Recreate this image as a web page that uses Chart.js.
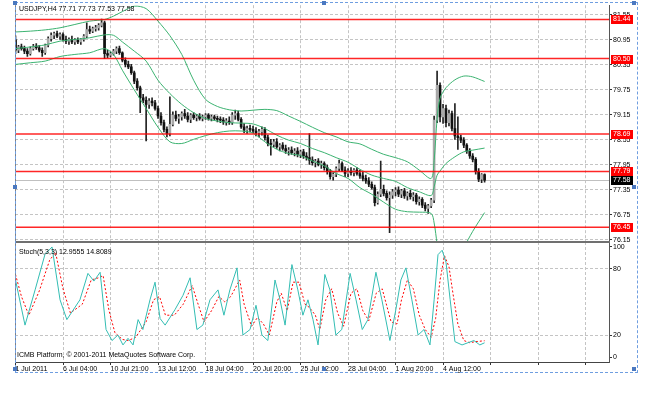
<!DOCTYPE html>
<html>
<head>
<meta charset="utf-8">
<title>USDJPY,H4</title>
<script src="https://cdn.jsdelivr.net/npm/chart.js@4.4.1/dist/chart.umd.min.js"></script>
<style>
    html, body { margin: 0; padding: 0; background: #fff; }
    #wrap { position: relative; width: 662px; height: 396px; overflow: hidden; background: #fff; }
    #wrap canvas { position: absolute; left: 0; top: 0; }
    .txt { position: absolute; font: 7px "Liberation Sans", Arial, sans-serif; color: #000; white-space: nowrap; line-height: 9px; }
    #selection { position: absolute; left: 15px; top: 2px; width: 623px; height: 371px; box-sizing: border-box; border: 1px dashed #6f9ee0; }
    .handle { position: absolute; width: 4px; height: 4px; background: #4a78c0; }
</style>
</head>
<body>
<div id="wrap">
    <canvas id="priceCanvas" width="662" height="396"></canvas>
    <canvas id="stochCanvas" width="662" height="396"></canvas>
    <div class="txt" id="priceTitle" style="left:19px; top:4px;"></div>
    <div class="txt" id="stochTitle" style="left:19px; top:247px;"></div>
    <div class="txt" style="left:17px; top:350px;">ICMB Platform, © 2001-2011 MetaQuotes Software Corp.</div>
    <div id="selection"></div>
    <div class="handle" style="left:13px; top:1px;"></div>
    <div class="handle" style="left:322px; top:1px;"></div>
    <div class="handle" style="left:632px; top:1px;"></div>
    <div class="handle" style="left:13px; top:185px;"></div>
    <div class="handle" style="left:632px; top:185px;"></div>
    <div class="handle" style="left:13px; top:367px;"></div>
    <div class="handle" style="left:322px; top:367px;"></div>
    <div class="handle" style="left:632px; top:367px;"></div>
</div>
<script>
// DATA: H4 candles, bar index 0..158
const SYMBOL = 'USDJPY,H4';

const candleOpen = [
    80.95,80.70,80.78,80.74,80.68,80.62,80.74,80.80,80.76,80.70,
    80.64,80.82,80.98,81.06,81.10,81.04,81.08,80.96,80.92,80.96,
    80.90,80.94,80.90,80.96,81.04,81.20,81.16,81.22,81.24,81.30,
    81.36,80.62,80.58,80.62,80.68,80.74,80.64,80.46,80.36,80.30,
    80.16,79.96,79.80,79.56,79.50,79.40,79.48,79.44,79.30,79.12,
    78.96,78.80,78.70,78.92,79.14,79.06,79.10,79.18,79.12,79.04,
    79.14,79.08,79.12,79.06,79.10,79.14,79.06,79.10,79.06,79.04,
    79.02,78.98,79.00,78.96,79.14,79.18,79.04,78.86,78.78,78.82,
    78.80,78.76,78.72,78.74,78.80,78.60,78.46,78.44,78.50,78.38,
    78.42,78.34,78.28,78.30,78.24,78.28,78.20,78.26,78.16,78.12,
    78.06,78.00,78.04,77.96,77.98,77.88,77.78,77.66,77.72,77.86,
    77.98,77.82,77.74,77.80,77.76,77.82,77.74,77.68,77.62,77.56,
    77.48,77.40,77.04,77.24,77.36,77.26,77.16,77.22,77.30,77.34,
    77.24,77.32,77.20,77.26,77.18,77.22,77.06,77.12,76.98,76.90,
    76.96,77.10,79.02,79.86,79.10,79.30,78.96,79.18,78.82,78.64,
    78.60,78.54,78.42,78.28,78.16,78.08,77.78,77.60,77.71
];
const candleHigh = [
    81.05,80.82,80.85,80.80,80.74,80.78,80.84,80.86,80.82,80.76,
    80.85,81.02,81.12,81.14,81.16,81.12,81.12,81.04,81.00,81.04,
    80.98,81.00,80.98,81.08,81.36,81.28,81.26,81.30,81.34,81.45,
    81.40,80.70,80.66,80.72,80.78,80.80,80.66,80.52,80.44,80.36,
    80.20,80.02,79.84,79.64,79.58,79.54,79.56,79.50,79.36,79.20,
    79.02,78.86,79.58,79.22,79.24,79.16,79.22,79.28,79.20,79.18,
    79.20,79.16,79.18,79.14,79.18,79.18,79.14,79.14,79.12,79.10,
    79.08,79.06,79.10,79.20,79.26,79.24,79.08,78.94,78.88,78.90,
    78.88,78.84,78.80,78.86,78.84,78.66,78.56,78.56,78.58,78.46,
    78.48,78.42,78.36,78.38,78.34,78.36,78.30,78.32,78.24,78.70,
    78.14,78.08,78.10,78.04,78.02,77.94,77.84,77.76,77.90,78.06,
    78.02,77.90,77.86,77.88,77.86,77.88,77.82,77.78,77.70,77.64,
    77.54,77.46,77.30,78.04,77.46,77.32,77.30,77.36,77.40,77.42,
    77.36,77.38,77.30,77.34,77.28,77.26,77.18,77.16,77.04,77.00,
    77.14,79.12,80.20,79.92,79.40,79.38,79.26,79.24,79.42,79.10,
    78.66,78.60,78.46,78.34,78.22,78.12,77.86,77.74,77.73
];
const candleLow = [
    80.62,80.64,80.70,80.62,80.55,80.58,80.70,80.72,80.66,80.55,
    80.60,80.78,80.92,80.98,81.00,80.96,80.92,80.86,80.84,80.86,
    80.84,80.86,80.84,80.92,81.00,81.10,81.12,81.16,81.18,81.26,
    80.50,80.52,80.54,80.58,80.62,80.60,80.42,80.30,80.26,80.12,
    79.90,79.74,79.20,79.44,78.52,79.30,79.36,79.26,79.06,78.90,
    78.74,78.62,78.64,78.88,79.00,78.94,79.02,79.06,78.98,78.96,
    79.04,79.00,79.02,79.00,79.04,79.02,79.00,79.02,78.98,78.96,
    78.92,78.90,78.92,78.92,79.04,79.00,78.82,78.72,78.70,78.74,
    78.72,78.64,78.62,78.66,78.54,78.40,78.18,78.38,78.34,78.28,
    78.30,78.22,78.18,78.20,78.16,78.14,78.12,78.10,78.06,77.96,
    77.94,77.90,77.92,77.86,77.82,77.72,77.60,77.58,77.66,77.80,
    77.78,77.66,77.66,77.70,77.68,77.70,77.62,77.56,77.50,77.42,
    77.36,76.96,77.00,77.18,77.20,77.10,76.32,77.14,77.20,77.18,
    77.16,77.14,77.10,77.12,77.08,77.00,76.98,76.92,76.84,76.78,
    76.92,77.04,78.96,78.98,78.94,78.86,78.88,78.76,78.56,78.32,
    78.48,78.36,78.22,78.10,78.02,77.72,77.54,77.52,77.53
];
const candleClose = [
    80.70,80.78,80.74,80.68,80.62,80.74,80.80,80.76,80.70,80.64,
    80.82,80.98,81.06,81.10,81.04,81.08,80.96,80.92,80.96,80.90,
    80.94,80.90,80.96,81.04,81.20,81.16,81.22,81.24,81.30,81.36,
    80.62,80.58,80.62,80.68,80.74,80.64,80.46,80.36,80.30,80.16,
    79.96,79.80,79.56,79.50,79.40,79.48,79.44,79.30,79.12,78.96,
    78.80,78.70,78.92,79.14,79.06,79.10,79.18,79.12,79.04,79.14,
    79.08,79.12,79.06,79.10,79.14,79.06,79.10,79.06,79.04,79.02,
    78.98,79.00,78.96,79.14,79.18,79.04,78.86,78.78,78.82,78.80,
    78.76,78.72,78.74,78.80,78.60,78.46,78.44,78.50,78.38,78.42,
    78.34,78.28,78.30,78.24,78.28,78.20,78.26,78.16,78.12,78.06,
    78.00,78.04,77.96,77.98,77.88,77.78,77.66,77.72,77.86,77.98,
    77.82,77.74,77.80,77.76,77.82,77.74,77.68,77.62,77.56,77.48,
    77.40,77.04,77.24,77.36,77.26,77.16,77.22,77.30,77.34,77.24,
    77.32,77.20,77.26,77.18,77.22,77.06,77.12,76.98,76.90,76.96,
    77.10,79.02,79.86,79.10,79.30,78.96,79.18,78.82,78.64,78.60,
    78.54,78.42,78.28,78.16,78.08,77.78,77.60,77.71,77.58
];

// Bollinger bands, read at these bars
const bandX = [0,5,10,15,20,25,30,33,36,40,44,48,52,56,60,64,68,72,76,80,84,88,92,96,100,104,108,112,116,120,124,128,132,136,140,141,142,143,145,148,151,154,158];
const bandUpper = [81.14,81.16,81.19,81.24,81.32,81.40,81.44,81.52,81.63,81.76,81.70,81.40,81.05,80.60,79.98,79.52,79.35,79.27,79.24,79.26,79.28,79.25,79.12,78.99,78.85,78.72,78.62,78.50,78.45,78.32,78.20,78.12,78.02,77.82,77.62,78.05,79.05,79.55,79.80,79.99,80.08,80.06,79.95];
const bandMiddle = [80.74,80.78,80.83,80.92,80.96,81.00,81.07,81.06,80.90,80.68,80.44,79.98,79.66,79.40,79.20,79.06,79.00,78.96,78.95,78.93,78.82,78.66,78.54,78.46,78.34,78.24,78.12,78.01,77.84,77.70,77.62,77.55,77.40,77.30,77.21,77.42,77.70,77.80,77.98,78.14,78.26,78.30,78.35];
const bandLower = [80.36,80.40,80.44,80.55,80.60,80.64,80.74,80.60,80.22,79.75,79.30,78.85,78.50,78.46,78.56,78.65,78.72,78.76,78.76,78.71,78.50,78.32,78.22,78.17,78.04,77.92,77.74,77.62,77.40,77.24,77.05,76.88,76.82,76.81,76.78,76.55,76.05,75.60,75.30,75.50,75.95,76.35,76.80];

// Stochastic (5,3,3)
const stochMainX = [0,3.2,6.6,9.9,12.3,15,17.3,21.7,24.4,26.4,28.5,30.5,32.5,34.5,36.2,37.9,39.6,41.3,42.9,45.3,47,48.7,50.4,53.7,56.4,58.8,61.1,63.1,65.5,68.2,70.2,72.2,74.6,76.6,79,81,83,85,87.4,89.1,90.8,93.1,95.1,96.8,98.5,100.2,101.9,104.2,105.9,107.9,109.9,112.7,114.7,116.8,118.7,121.4,123.4,126.1,128.1,129.8,131.5,133.5,135.6,137.6,139.6,141,142.3,143.7,145,146.4,148,150.4,152.4,154.4,156.4,158];
const stochMain = [70,29,61,93,100,52,34,52,76,69,77,25,15,20,11,17,11,34,25,52,68,35,29,43,56,72,25,29,52,61,38,61,81,20,25,47,20,15,70,52,29,84,61,38,52,34,11,75,61,20,25,76,52,25,34,77,52,15,43,70,81,52,20,25,11,52,93,97,86,52,14,11,13,15,11,12.9555];
const stochSignalX = [0,2,4.5,8,11.5,13.5,16,18.5,22.5,25.5,28,29.5,31.5,33.5,36,38,40.5,42.5,44,46.5,48.5,50.5,53.5,56.5,59.5,61.5,63.5,66,68.5,70.5,72.5,75.5,77,79.5,81.5,83.5,85.5,88,89.5,91.5,93.5,95.5,97.5,99,101,102.5,104.5,106.5,108.5,110.5,113,115,117,119,121.5,123.5,126.5,128.5,130,132,134,136,138,140,141.5,143,144.5,146,147.5,149,151,153,155,158];
const stochSignal = [75,55,38,60,88,95,62,40,48,70,72,74,42,22,16,15,18,26,32,52,55,38,38,48,65,48,32,42,55,50,55,70,48,28,36,30,20,50,58,42,68,68,48,45,38,25,52,62,40,28,58,62,42,33,58,62,32,30,52,70,62,38,25,18,35,70,92,82,55,30,15,13,14,14.8089];

// Horizontal lines, axis ticks, time labels
const priceLevels = [81.44, 80.50, 78.69, 77.79, 76.45];
const priceTicks = [76.15, 76.75, 77.35, 77.95, 78.55, 79.15, 79.75, 80.35, 80.95, 81.55];
const stochTicks = [0, 20, 80, 100];
const stochLevels = [20, 80];
const timeTickBars = [0, 16, 32, 48, 64, 80, 96, 112, 128, 144, 160, 176, 192];
const timeLabels = ['1 Jul 2011', '6 Jul 04:00', '10 Jul 21:00', '13 Jul 12:00', '18 Jul 04:00', '20 Jul 20:00', '25 Jul 12:00', '28 Jul 04:00', '1 Aug 20:00', '4 Aug 12:00'];

// LAYOUT / STYLE
const X_MIN = -0.17, X_MAX = 199.9;
const PRICE_MIN = 76.117, PRICE_MAX = 81.783;
const STOCH_MIN = -4.5, STOCH_MAX = 104.5;
const AXIS_W = 53;
const GRID = '#c4c4c4';
const BAND = '#3cb371';
const FONT_STR = '7px "Liberation Sans", Arial, sans-serif';

Chart.defaults.font.family = '"Liberation Sans", Arial, sans-serif';
Chart.defaults.font.size = 7;
Chart.defaults.color = '#000';
Chart.defaults.animation = false;
Chart.defaults.events = [];
Chart.defaults.plugins.legend.display = false;
Chart.defaults.plugins.tooltip.enabled = false;

function points(xs, ys) {
    return xs.map((x, k) => ({ x: x, y: ys[k] }));
}

function timeAxis(showLabels) {
    return {
        type: 'linear',
        min: X_MIN,
        max: X_MAX,
        offset: false,
        afterBuildTicks: s => { s.ticks = timeTickBars.map(v => ({ value: v })); },
        afterFit: s => { s.height = showLabels ? 34 : 0; },
        grid: { color: GRID, offset: false, drawTicks: showLabels, tickLength: 3, tickColor: '#333', tickBorderDash: [] },
        border: { display: showLabels, color: '#444', width: 1, dash: [3, 2] },
        ticks: {
            display: showLabels, autoSkip: false, maxRotation: 0, minRotation: 0,
            align: 'start', padding: 0, color: '#000',
            callback: (v, k) => timeLabels[k] || ''
        }
    };
}

function valueAxis(min, max, tickValues, fmt, gridColor) {
    return {
        type: 'linear',
        position: 'right',
        min: min,
        max: max,
        afterBuildTicks: s => { s.ticks = tickValues.map(v => ({ value: v })); },
        afterFit: s => { s.width = AXIS_W; },
        grid: { color: gridColor, tickLength: 3, tickColor: '#333', tickBorderDash: [] },
        border: { color: '#555', width: 1, dash: [3, 2] },
        ticks: { autoSkip: false, padding: 1, color: '#000', callback: fmt }
    };
}

function bandLine(values) {
    return {
        type: 'line',
        data: points(bandX, values),
        borderColor: BAND,
        borderWidth: 1,
        pointRadius: 0,
        tension: 0.3
    };
}

// PLUGINS
const panelFrame = {
    id: 'panelFrame',
    afterDraw(chart, args, opts) {
        const { ctx, chartArea: a } = chart;
        ctx.save();
        ctx.strokeStyle = '#808080';
        ctx.lineWidth = 1;
        ctx.beginPath();
        ctx.moveTo(a.left + 0.5, a.top);
        ctx.lineTo(a.left + 0.5, a.bottom);
        ctx.stroke();
        if (opts.topRule) {
            ctx.strokeStyle = '#707070';
            ctx.lineWidth = 2;
            ctx.beginPath();
            ctx.moveTo(a.left, a.top);
            ctx.lineTo(a.right + 1, a.top);
            ctx.stroke();
        }
        ctx.restore();
    }
};

function priceBox(ctx, y, value, color) {
    const py = y.getPixelForValue(value);
    ctx.fillStyle = color;
    ctx.fillRect(611, Math.round(py) - 4, 22, 9);
    ctx.fillStyle = '#fff';
    ctx.font = FONT_STR;
    ctx.textAlign = 'left';
    ctx.textBaseline = 'middle';
    ctx.fillText(value.toFixed(2), 613, Math.round(py) + 0.5);
}

const priceDecor = {
    id: 'priceDecor',
    beforeDatasetsDraw(chart) {
        // bid line
        const { ctx, chartArea: a, scales: { y } } = chart;
        const bid = candleClose[candleClose.length - 1];
        const py = Math.round(y.getPixelForValue(bid)) + 0.5;
        ctx.save();
        ctx.strokeStyle = '#c0c0c0';
        ctx.lineWidth = 1;
        ctx.beginPath();
        ctx.moveTo(a.left, py);
        ctx.lineTo(a.right, py);
        ctx.stroke();
        ctx.restore();
    },
    afterDatasetsDraw(chart) {
        const { ctx, chartArea: a, scales: { y } } = chart;
        ctx.save();
        ctx.strokeStyle = 'rgba(255,0,0,0.85)';
        ctx.lineWidth = 1.5;
        priceLevels.forEach(v => {
            const py = y.getPixelForValue(v);
            ctx.beginPath();
            ctx.moveTo(a.left, py);
            ctx.lineTo(a.right, py);
            ctx.stroke();
        });
        ctx.restore();
    },
    afterDraw(chart) {
        const { ctx, scales: { y } } = chart;
        ctx.save();
        priceLevels.forEach(v => priceBox(ctx, y, v, '#ff0000'));
        priceBox(ctx, y, candleClose[candleClose.length - 1], '#000');
        ctx.restore();
    }
};

// PRICE PANEL
const isBull = candleClose.map((c, i) => c >= candleOpen[i]);

const priceChart = new Chart(document.getElementById('priceCanvas'), {
    type: 'bar',
    data: {
        datasets: [
            bandLine(bandUpper),
            bandLine(bandMiddle),
            bandLine(bandLower),
            {
                label: 'Body',
                data: candleClose.map((c, i) => ({ x: i, y: [candleOpen[i], c] })),
                backgroundColor: isBull.map(b => b ? '#a8a8a8' : '#111'),
                borderWidth: 0,
                barThickness: 2,
                minBarLength: 1,
                grouped: false
            },
            {
                label: 'Wick',
                data: candleHigh.map((h, i) => ({ x: i, y: [candleLow[i], h] })),
                backgroundColor: '#222',
                barThickness: 1,
                grouped: false
            }
        ]
    },
    options: {
        responsive: false,
        layout: { padding: { left: 15, top: 3, right: 0, bottom: 155 } },
        scales: {
            x: timeAxis(false),
            y: valueAxis(PRICE_MIN, PRICE_MAX, priceTicks, v => v.toFixed(2), GRID)
        },
        plugins: { panelFrame: { topRule: false } }
    },
    plugins: [priceDecor, panelFrame]
});

// STOCHASTIC PANEL
const stochChart = new Chart(document.getElementById('stochCanvas'), {
    type: 'line',
    data: {
        datasets: [
            {
                label: 'Main',
                data: points(stochMainX, stochMain),
                borderColor: '#33bdb3',
                borderWidth: 1,
                pointRadius: 0,
                tension: 0
            },
            {
                label: 'Signal',
                data: points(stochSignalX, stochSignal),
                borderColor: '#ff0000',
                borderWidth: 1,
                borderDash: [2, 2],
                pointRadius: 0,
                tension: 0
            }
        ]
    },
    options: {
        responsive: false,
        layout: { padding: { left: 15, top: 242, right: 0, bottom: 0 } },
        scales: {
            x: timeAxis(true),
            y: valueAxis(STOCH_MIN, STOCH_MAX, stochTicks, v => String(v),
                ctx => stochLevels.includes(ctx.tick.value) ? GRID : 'rgba(0,0,0,0)')
        },
        plugins: { panelFrame: { topRule: true } }
    },
    plugins: [panelFrame]
});

// HEADER TEXTS
const last = candleClose.length - 1;
document.getElementById('priceTitle').textContent =
    `${SYMBOL}  ${candleOpen[last].toFixed(2)} ${candleHigh[last].toFixed(2)} ${candleLow[last].toFixed(2)} ${candleClose[last].toFixed(2)}`;
document.getElementById('stochTitle').textContent =
    `Stoch(5,3,3) ${stochMain[stochMain.length - 1].toFixed(4)} ${stochSignal[stochSignal.length - 1].toFixed(4)}`;
</script>
</body>
</html>
